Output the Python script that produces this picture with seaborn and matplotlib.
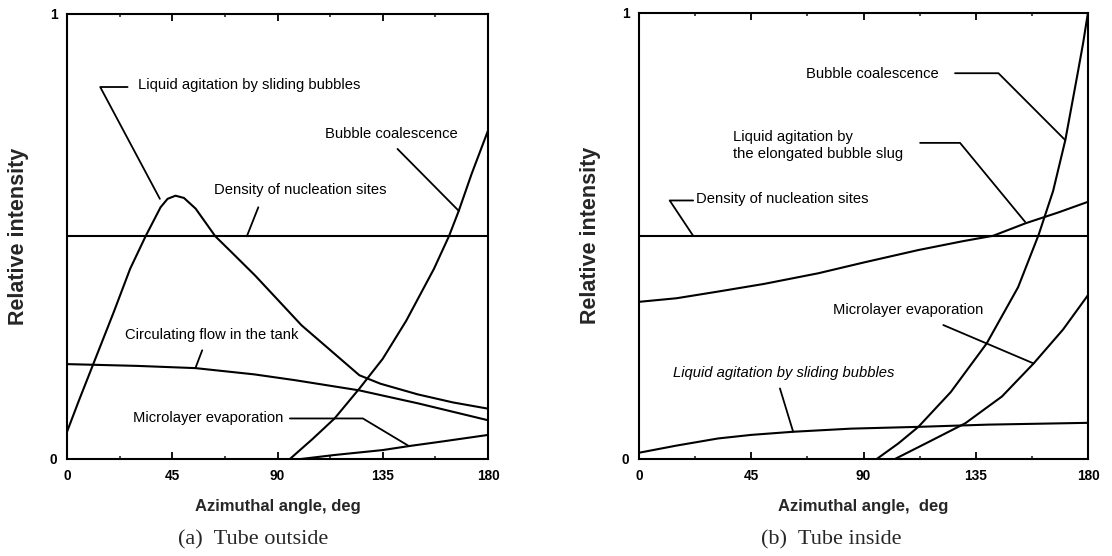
import pandas as pd
import seaborn as sns
import matplotlib.pyplot as plt
from matplotlib.ticker import MultipleLocator

# ---- (a) Tube outside: values ----
out_density_x = [0, 180]
out_density_y = [0.5, 0.5]

out_sliding_x = [0, 5, 11, 20, 27, 33.7, 40, 43, 46.4, 50, 55, 63.4, 70, 80.4, 90, 100.3, 112, 125, 134, 150, 165, 180]
out_sliding_y = [0.061, 0.13, 0.21, 0.33, 0.427, 0.501, 0.565, 0.584, 0.591, 0.586, 0.562, 0.5, 0.466, 0.412, 0.358,
                 0.300, 0.247, 0.188, 0.169, 0.145, 0.127, 0.113]

out_circ_x = [0, 30, 54.9, 80, 97.4, 125, 150, 180]
out_circ_y = [0.213, 0.209, 0.204, 0.19, 0.177, 0.154, 0.125, 0.087]

out_coal_x = [95.3, 105, 114.4, 125, 135, 145, 156.9, 163.3, 167.5, 173, 180]
out_coal_y = [0.0, 0.045, 0.091, 0.158, 0.225, 0.31, 0.427, 0.5, 0.557, 0.64, 0.737]

out_micro_x = [100, 114.4, 134.9, 146.2, 160, 180]
out_micro_y = [0.0, 0.009, 0.020, 0.029, 0.039, 0.054]

# ---- (b) Tube inside ----
in_density_x = [0, 180]
in_density_y = [0.5, 0.5]

in_slug_x = [0, 15, 31.7, 50, 71.9, 90, 112, 130, 142, 155, 168, 180]
in_slug_y = [0.352, 0.36, 0.375, 0.392, 0.416, 0.44, 0.468, 0.488, 0.5, 0.528, 0.552, 0.576]

in_sliding_x = [0, 15, 31.7, 45, 61.8, 85, 112, 140, 180]
in_sliding_y = [0.014, 0.03, 0.046, 0.054, 0.061, 0.068, 0.072, 0.077, 0.081]

in_coal_x = [95.3, 104, 112, 125, 139.4, 152, 160.2, 166, 170.9, 175.6, 178, 180]
in_coal_y = [0.0, 0.035, 0.072, 0.15, 0.259, 0.385, 0.502, 0.6, 0.714, 0.856, 0.93, 1.0]

in_micro_x = [102.6, 115, 130.8, 145.5, 158.2, 170, 180]
in_micro_y = [0.0, 0.035, 0.08, 0.14, 0.214, 0.29, 0.367]

x_ticks = [0, 45, 90, 135, 180]
y_ticks = [0, 1]
y_tick_labels = ["0", "1"]

curves = {
    "outside": [
        ("density", out_density_x, out_density_y),
        ("sliding", out_sliding_x, out_sliding_y),
        ("circulating", out_circ_x, out_circ_y),
        ("coalescence", out_coal_x, out_coal_y),
        ("microlayer", out_micro_x, out_micro_y),
    ],
    "inside": [
        ("density", in_density_x, in_density_y),
        ("slug", in_slug_x, in_slug_y),
        ("sliding", in_sliding_x, in_sliding_y),
        ("coalescence", in_coal_x, in_coal_y),
        ("microlayer", in_micro_x, in_micro_y),
    ],
}

rows = []
for panel, items in curves.items():
    for name, xs, ys in items:
        for x, y in zip(xs, ys):
            rows.append({"panel": panel, "curve": name, "angle": x, "intensity": y})
df = pd.DataFrame(rows)

# annotation text, text pos, alignment, style, leader polyline
notes = {
    "outside": [
        ("Liquid agitation by sliding bubbles", (30.2, 0.839), "left", "normal",
         [(25.9, 0.835), (14.2, 0.835), (39.7, 0.584)]),
        ("Bubble coalescence", (138.8, 0.729), "center", "normal", [(141.3, 0.696), (167.5, 0.557)]),
        ("Density of nucleation sites", (99.9, 0.604), "center", "normal", [(81.8, 0.565), (76.9, 0.5)]),
        ("Circulating flow in the tank", (62.0, 0.278), "center", "normal", [(57.8, 0.244), (54.9, 0.204)]),
        ("Microlayer evaporation", (60.2, 0.093), "center", "normal",
         [(95.3, 0.091), (126.5, 0.091), (146.2, 0.029)]),
    ],
    "inside": [
        ("Bubble coalescence", (93.6, 0.862), "center", "normal",
         [(126.7, 0.864), (144.1, 0.864), (170.9, 0.714)]),
        ("Liquid agitation by\nthe elongated bubble slug", (37.7, 0.702), "left", "normal",
         [(112.7, 0.708), (128.7, 0.708), (154.8, 0.531)]),
        ("Density of nucleation sites", (22.7, 0.582), "left", "normal",
         [(21.7, 0.579), (12.3, 0.579), (21.7, 0.5)]),
        ("Microlayer evaporation", (107.9, 0.334), "center", "normal", [(122.0, 0.300), (158.2, 0.214)]),
        ("Liquid agitation by sliding bubbles", (58.1, 0.192), "center", "italic",
         [(56.5, 0.158), (61.8, 0.061)]),
    ],
}

sns.set_theme(style="ticks")
plt.rcParams["font.family"] = ["Liberation Sans", "DejaVu Sans"]

fig = plt.figure(figsize=(11.12, 5.56), dpi=100)
ax1 = fig.add_axes([67 / 1112, 97 / 556, 421 / 1112, 445.5 / 556])
ax2 = fig.add_axes([639 / 1112, 97 / 556, 449 / 1112, 446.5 / 556])

panels = [("outside", ax1, "Azimuthal angle, deg", "(a)  Tube outside", 0.442),
          ("inside", ax2, "Azimuthal angle,  deg", "(b)  Tube inside", 0.428)]

for panel, ax, xlab, caption, cap_x in panels:
    sub = df[df["panel"] == panel]
    for name in sub["curve"].unique():
        sns.lineplot(data=sub[sub["curve"] == name], x="angle", y="intensity", ax=ax,
                     color="black", lw=1.5, estimator=None, sort=False, legend=False)

    for text, pos, ha, style, leader in notes[panel]:
        ax.text(pos[0], pos[1], text, ha=ha, va="center", fontsize=10.6, color="black",
                linespacing=1.2, style=style)
        lx = [p[0] for p in leader]
        ly = [p[1] for p in leader]
        ax.plot(lx, ly, color="black", lw=1.3)

    ax.set_xlim(0, 180)
    ax.set_ylim(0, 1)
    ax.set_xticks(x_ticks)
    ax.set_xticklabels([str(t) for t in x_ticks], fontsize=9.8, fontweight="bold")
    ax.xaxis.set_minor_locator(MultipleLocator(22.5))
    ax.set_yticks(y_ticks)
    ax.set_yticklabels(y_tick_labels, fontsize=9.8, fontweight="bold")
    ax.tick_params(axis="x", which="major", direction="in", top=True, bottom=True,
                   length=5, width=1.3, pad=7, colors="black")
    ax.tick_params(axis="x", which="minor", direction="in", top=True, bottom=True,
                   length=2.5, width=1.2)
    ax.tick_params(axis="y", length=0, pad=7, colors="black")
    for s in ax.spines.values():
        s.set_linewidth(1.5)
        s.set_color("black")

    ax.set_xlabel(xlab, fontsize=12, fontweight="bold", labelpad=12)
    ax.set_ylabel("Relative intensity", fontsize=15.5, fontweight="bold", labelpad=15)
    ax.text(cap_x, -0.181, caption, transform=ax.transAxes, ha="center", va="center",
            fontsize=16, family="Liberation Serif")

fig.savefig("out.png", dpi=100)
